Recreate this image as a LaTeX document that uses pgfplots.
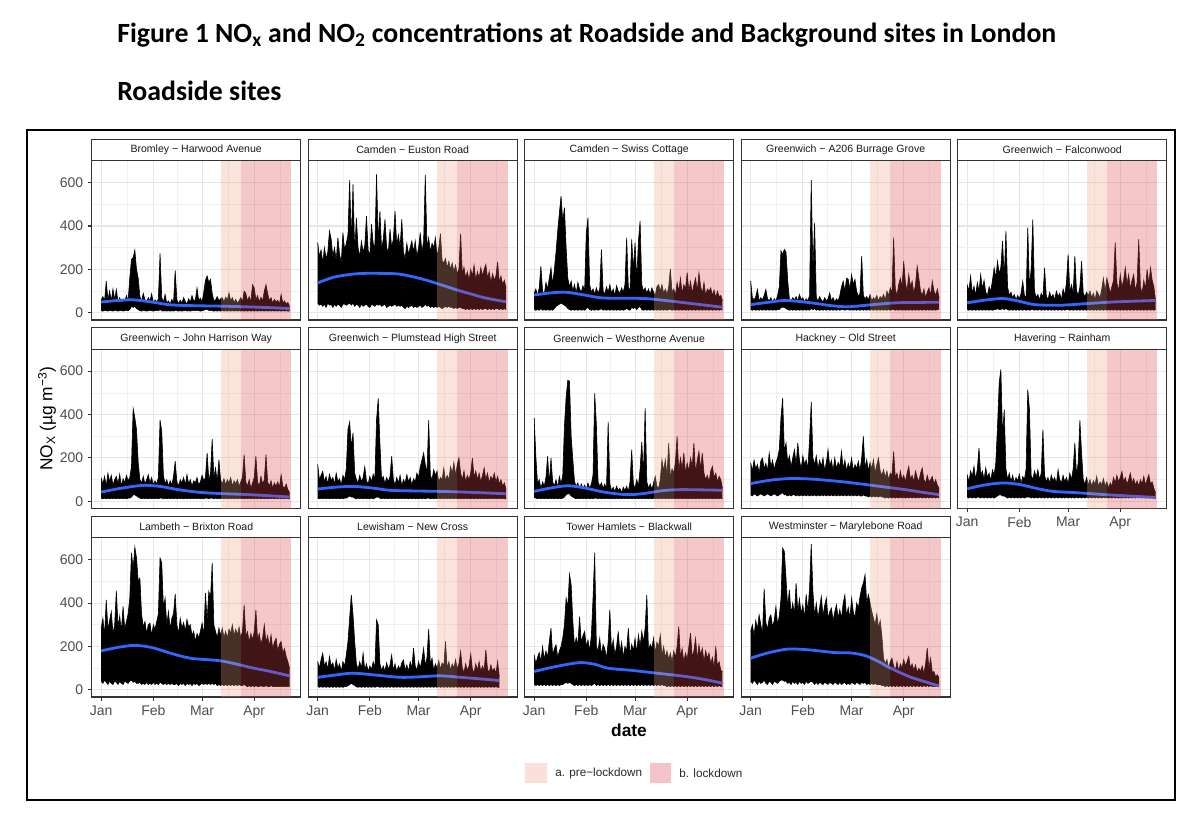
\documentclass[border=0pt]{standalone}
\usepackage{fontspec}
\setmainfont{Liberation Sans}
\newfontfamily\calib{Carlito}
\usepackage{pgfplots}
\pgfplotsset{compat=1.18}
\usepackage{pgfplotstable}
\usepgfplotslibrary{fillbetween}

\definecolor{preC}{RGB}{235,162,135}
\definecolor{lockC}{RGB}{218,68,72}
\definecolor{preL}{RGB}{249,224,216}
\definecolor{lockL}{RGB}{244,196,198}
\definecolor{smoothC}{HTML}{3366FF}
\definecolor{frameC}{HTML}{333333}
\definecolor{tickC}{HTML}{4D4D4D}
\definecolor{gridC}{HTML}{E6E6E6}
\definecolor{gridM}{HTML}{F0F0F0}

\pgfplotsset{
 panel/.style={
  anchor=north west, scale only axis, width=156.75pt, height=119.5pt,
  xmin=-5.65, xmax=118.65, ymin=-33, ymax=701,
  xtick={0,31,60,91}, xticklabels={Jan,Feb,Mar,Apr},
  minor xtick={15.5,45.5,75.5,106.5},
  ytick={0,200,400,600}, minor ytick={100,300,500},
  grid=both,
  major grid style={draw=gridC, line width=0.8pt},
  minor grid style={draw=gridM, line width=0.45pt},
  axis line style={draw=frameC, line width=0.9pt},
  tick align=outside, major tick length=2.8pt, minor tick length=0pt,
  xtick pos=bottom, ytick pos=left,
  tick style={draw=frameC, line width=0.8pt},
  ticklabel style={font=\fontsize{10.5}{12}\selectfont, text=tickC},
  /pgf/number format/assume math mode=true,
 },
 noxl/.style={xticklabels={}, xtick style={draw=none}},
 noyl/.style={yticklabels={}, ytick style={draw=none}},
}

\newcommand{\panel}[7]{%
 \begin{axis}[panel, at={(#1,#2)}, name=#7, #3]
  \addplot[name path=hi, draw=black, line width=0.45pt] table[x expr=\coordindex, y=p] {#4};
  \addplot[name path=lo, draw=black, line width=0.45pt] table[x expr=\coordindex, y=t] {#4};
  \addplot[fill=black, draw=none] fill between[of=hi and lo];
  \addplot[draw=smoothC, line width=2.1pt, smooth, tension=0.5] coordinates {#5};
  \addplot[draw=none, fill=preC, fill opacity=0.3] coordinates {(71,-33) (83,-33) (83,701) (71,701)};
  \addplot[draw=none, fill=lockC, fill opacity=0.3] coordinates {(83,-33) (113,-33) (113,701) (83,701)};
 \end{axis}
 \draw[draw=frameC, line width=0.9pt, fill=white] (#7.north west) rectangle ([yshift=16pt]#7.north east);
 \node[font=\fontsize{7.9}{9}\selectfont, text=black!90, inner sep=0pt] at ([yshift=8pt]#7.north) {#6};
}

% Bromley - Harwood Avenue
\pgfplotstableread{
p t
60 10
75 8
55 12
146 10
60 8
100 12
55 10
110 8
60 12
108 10
50 8
70 10
45 12
62 8
50 10
80 12
55 10
160 15
246 30
254 25
289 30
200 20
160 15
75 10
55 8
90 12
60 10
50 8
70 10
55 12
88 10
45 8
60 10
50 12
65 10
274 15
70 10
50 8
85 10
45 8
55 10
40 8
62 10
45 8
195 12
60 10
42 8
58 10
45 8
70 10
52 12
40 8
65 10
48 8
80 10
55 12
60 10
115 12
55 10
68 8
50 10
95 12
150 15
170 15
140 12
154 10
90 10
55 8
60 10
75 8
55 10
65 8
70 10
50 8
72 10
60 8
92 10
55 8
70 10
48 8
62 10
45 8
55 10
70 8
50 10
100 8
90 10
55 8
75 10
50 8
130 10
115 8
60 10
80 8
50 10
72 8
55 10
100 8
130 10
90 8
55 10
70 8
45 10
62 8
50 10
58 8
40 10
85 8
45 10
55 8
40 10
48 8
30 8
}\dA

% Camden - Euston Road
\pgfplotstableread{
p t
323 45
260 35
290 40
230 30
300 40
250 25
280 45
377 35
340 40
260 25
300 40
240 30
346 40
270 35
230 25
369 40
290 40
320 35
360 40
611 45
330 35
592 45
280 30
438 40
300 35
260 25
330 40
280 30
310 35
446 40
290 30
260 25
408 40
320 35
300 30
638 40
330 35
469 40
290 30
340 35
430 40
300 25
280 30
385 35
300 30
340 35
469 40
310 30
360 35
300 30
431 35
280 25
250 20
320 30
270 25
300 30
331 35
280 25
331 30
260 25
300 30
369 35
280 25
330 30
635 40
300 30
346 35
280 25
320 30
300 25
346 30
260 25
300 30
365 25
240 20
230 25
250 30
208 25
238 30
200 25
230 25
190 20
220 25
180 20
200 25
365 25
180 20
210 20
160 15
190 20
150 15
200 20
170 15
220 20
150 15
190 20
160 15
208 20
170 15
200 20
223 20
160 15
190 20
140 15
180 20
150 15
170 20
235 20
140 15
170 20
130 15
150 20
115 15
}\dB

% Camden - Swiss Cottage
\pgfplotstableread{
p t
90 15
110 12
80 15
115 12
215 20
100 12
85 15
140 12
110 15
160 12
208 15
130 12
200 20
280 30
377 35
462 40
538 45
420 40
485 35
300 30
160 20
120 15
146 12
100 15
130 12
90 15
140 12
110 15
95 12
125 15
100 12
369 20
438 25
130 15
95 12
110 15
85 12
115 15
90 12
110 15
292 20
100 12
85 15
120 12
95 15
130 12
90 15
110 12
80 15
125 12
100 15
90 12
115 15
95 12
130 15
346 20
120 15
100 12
338 25
200 20
323 25
150 15
330 25
423 30
130 15
100 12
115 15
90 12
110 15
85 12
115 15
95 12
80 15
120 12
130 15
100 12
130 15
90 12
110 15
85 12
120 15
203 15
95 12
110 15
80 12
140 15
100 12
160 15
90 12
130 15
110 12
185 15
100 12
145 15
90 12
130 15
160 12
100 15
185 12
120 15
90 12
140 15
80 12
110 15
100 12
115 15
80 12
105 15
70 12
100 15
75 12
80 15
55 12
}\dC

% Greenwich - A206 Burrage Grove
\pgfplotstableread{
p t
146 15
70 12
60 15
75 12
108 15
55 12
70 15
60 12
80 15
108 12
65 15
55 12
70 15
50 12
65 15
55 12
80 15
120 15
285 25
270 25
292 25
280 20
150 15
65 12
55 15
70 12
60 15
75 12
55 15
85 12
60 15
70 12
50 15
65 12
55 15
80 12
611 20
200 15
415 20
70 12
55 15
75 12
60 15
50 12
70 15
55 12
65 15
92 12
55 15
70 12
50 15
65 12
55 15
80 12
120 15
146 15
100 12
160 15
154 15
110 12
177 15
130 12
154 15
100 12
75 15
90 12
262 15
80 12
65 15
75 12
60 15
85 12
55 15
70 12
60 15
80 12
55 15
75 12
65 15
85 12
60 15
100 12
80 15
115 12
90 15
346 15
110 12
80 15
130 12
160 15
120 12
238 15
140 12
100 15
177 12
120 15
146 12
90 15
130 12
215 15
160 12
100 15
80 12
110 15
70 12
95 15
115 12
80 15
146 12
100 15
80 12
110 15
70 15
}\dD

% Greenwich - Falconwood
\pgfplotstableread{
p t
130 15
100 12
170 15
90 12
123 15
80 12
140 15
100 12
177 15
110 12
150 15
95 12
80 15
120 12
100 15
150 12
208 15
160 15
238 20
180 15
210 15
331 20
160 15
377 20
120 15
80 12
95 15
70 12
85 15
60 12
80 15
65 12
90 15
146 12
80 15
70 12
392 15
120 12
200 15
430 15
100 12
70 15
85 12
60 15
90 12
70 15
208 12
80 15
60 12
95 15
70 12
85 15
60 12
100 15
75 12
90 15
60 12
110 15
80 12
140 15
269 15
100 12
130 15
90 12
262 15
100 12
80 15
120 12
238 15
90 12
75 15
95 12
80 15
100 12
70 15
90 12
60 15
100 12
85 15
70 12
110 15
160 12
100 15
160 12
130 15
90 12
120 15
150 12
323 15
140 12
100 15
177 12
120 15
150 12
208 15
130 12
177 15
110 12
150 15
177 12
100 15
140 12
338 15
120 12
90 15
150 12
110 15
200 12
130 15
208 12
150 15
120 12
55 15
}\dE

% Greenwich - John Harrison Way
\pgfplotstableread{
p t
108 15
80 12
115 15
70 12
130 15
90 12
120 15
75 12
100 15
115 12
80 15
125 12
70 15
105 12
85 15
120 12
95 15
110 15
160 20
428 30
385 30
331 25
180 20
100 15
85 12
115 15
80 12
100 15
123 12
85 15
110 12
75 15
95 12
80 15
110 12
374 15
323 15
120 12
80 15
100 12
70 15
95 12
75 15
115 12
185 15
90 12
70 15
100 12
85 15
110 12
75 15
123 12
80 15
100 12
70 15
95 12
85 15
110 12
75 15
90 12
120 15
95 12
110 15
223 15
100 12
130 15
288 15
110 12
154 15
90 12
192 15
100 12
80 15
105 12
75 15
100 12
85 15
110 12
70 15
95 12
80 15
100 12
70 15
90 12
110 15
215 12
90 15
70 12
100 15
60 12
85 15
110 12
208 15
90 12
70 15
115 12
80 15
100 12
215 15
90 12
70 15
95 12
60 15
85 12
70 15
90 12
65 15
123 12
70 15
60 12
80 15
55 12
40 12
}\dF

% Greenwich - Plumstead High Street
\pgfplotstableread{
p t
170 15
100 12
120 15
138 12
90 15
115 12
80 15
125 12
95 15
110 12
80 15
130 12
90 15
105 12
75 15
120 12
100 15
150 15
331 20
366 25
250 20
315 20
130 15
100 12
85 15
120 12
90 15
110 12
160 15
95 12
80 15
115 12
90 15
125 12
100 15
377 20
474 20
269 15
100 12
115 15
80 12
110 15
90 12
115 15
208 12
100 15
75 12
110 15
85 12
120 15
70 12
100 15
85 12
123 15
90 12
110 15
75 12
105 15
90 12
130 15
110 12
160 15
190 12
223 15
170 12
130 15
374 15
120 12
100 15
146 12
120 15
140 12
90 15
110 12
100 15
154 12
95 15
120 12
100 15
160 12
130 15
180 12
120 15
170 12
200 15
130 12
100 15
140 12
90 15
120 12
100 15
130 12
200 15
110 12
140 15
100 12
130 15
90 12
120 15
154 12
100 15
130 12
85 15
115 12
100 15
130 12
90 15
115 12
80 15
100 12
70 15
85 12
55 12
}\dG

% Greenwich - Westhorne Avenue
\pgfplotstableread{
p t
385 20
208 15
80 12
100 15
60 12
90 15
70 12
110 15
208 12
80 15
200 12
90 15
70 12
100 15
65 12
115 15
80 12
120 15
346 20
480 30
558 35
554 35
300 25
192 20
90 15
70 12
85 15
55 12
80 15
60 12
75 15
55 12
85 15
60 12
80 15
120 12
497 15
354 15
90 12
70 15
85 12
60 15
80 12
55 15
366 12
80 15
50 12
65 15
45 12
70 15
50 12
60 15
40 12
65 15
50 12
70 15
45 12
90 15
238 12
80 15
60 12
100 15
70 12
150 15
274 12
120 15
431 12
90 15
60 12
80 15
55 12
85 15
115 12
70 15
60 12
100 15
192 12
140 15
192 12
120 15
269 12
110 15
150 12
130 15
180 12
300 15
140 12
200 15
150 12
223 15
130 12
177 15
140 12
200 15
160 12
269 15
130 12
190 15
230 12
150 15
223 12
130 15
100 12
120 15
90 12
140 15
161 12
110 15
130 12
90 15
115 12
100 15
60 12
}\dH

% Hackney - Old Street
\pgfplotstableread{
p t
177 30
140 25
190 35
150 30
170 25
130 30
185 35
200 30
150 25
175 30
140 35
223 30
160 25
190 30
145 35
180 30
200 25
240 30
385 35
477 40
230 30
269 30
180 25
210 30
160 25
200 30
238 30
170 25
269 30
190 25
150 30
210 25
170 30
192 25
150 30
285 25
457 30
200 25
170 30
210 25
150 30
190 25
160 30
200 25
140 30
180 25
238 30
160 25
190 30
140 25
200 30
150 25
180 30
160 25
231 30
150 25
190 30
140 25
175 30
150 25
200 30
140 25
170 30
150 25
185 30
140 25
200 25
300 30
150 25
192 25
140 20
180 25
150 20
192 25
130 20
170 25
200 20
140 25
120 20
146 20
110 15
140 20
100 15
130 20
120 15
230 20
110 15
130 20
90 15
140 20
100 15
120 20
90 15
130 20
161 15
100 20
120 15
90 20
140 15
110 20
90 15
130 20
154 15
100 20
85 15
120 20
90 15
100 20
115 15
80 20
100 15
75 20
60 15
}\dI

% Havering - Rainham
\pgfplotstableread{
p t
123 20
90 15
140 20
115 15
161 20
100 15
150 20
246 20
120 15
140 20
100 15
155 20
110 15
130 20
95 15
145 20
120 15
180 20
346 25
546 30
608 30
300 25
423 25
150 20
100 15
130 20
90 15
120 20
85 15
110 20
95 15
125 20
80 15
115 20
100 15
150 20
515 20
423 20
120 15
100 20
140 15
110 20
146 15
100 20
130 15
331 20
120 15
90 20
110 15
85 20
120 15
95 20
110 15
80 20
146 15
100 20
85 15
120 20
90 15
110 20
80 15
130 20
100 15
150 20
269 15
120 20
180 15
374 20
223 15
100 20
80 15
110 20
75 15
100 20
70 15
95 20
80 15
115 20
70 15
90 20
75 15
105 20
70 15
90 20
60 15
85 20
70 15
110 20
85 15
120 20
90 15
110 20
138 15
90 20
110 15
80 20
100 15
130 20
85 15
105 20
75 15
95 20
70 15
100 20
80 15
115 20
75 15
100 20
123 15
80 20
90 15
60 15
40 12
}\dJ

% Lambeth - Brixton Road
\pgfplotstableread{
p t
285 40
330 30
250 45
415 35
280 25
320 40
361 30
260 25
300 40
457 35
290 25
340 40
270 30
385 25
280 40
315 35
350 30
423 40
631 45
560 35
658 40
608 30
500 30
515 35
350 25
290 30
315 25
260 35
300 25
308 30
250 25
300 35
280 25
315 30
350 25
608 35
585 30
380 25
423 30
300 25
361 30
280 25
330 30
350 25
442 25
300 30
260 20
330 30
285 25
310 30
270 20
325 30
290 25
300 30
250 20
270 30
223 25
260 30
240 20
270 25
308 30
250 25
446 30
320 25
454 30
423 25
585 30
300 25
270 30
240 20
285 25
250 20
285 25
240 20
270 25
238 20
280 25
260 20
300 25
250 20
280 25
254 20
290 25
240 20
270 20
392 25
250 20
269 15
220 20
260 15
230 20
269 15
369 20
230 15
260 15
210 20
240 15
300 15
220 20
250 15
200 15
254 20
190 15
220 15
238 15
180 15
210 15
223 15
170 15
190 15
154 15
130 15
100 15
}\dK

% Lewisham - New Cross
\pgfplotstableread{
p t
131 15
100 12
140 15
169 12
110 15
130 12
95 15
154 12
110 15
125 12
90 15
140 12
100 15
120 12
85 15
130 12
110 15
160 15
223 20
331 25
438 30
346 25
223 20
120 15
95 12
130 15
100 12
169 15
90 12
120 15
85 12
110 15
95 12
130 15
100 12
323 15
300 15
120 12
90 15
110 12
85 15
125 12
95 15
115 12
161 15
90 12
120 15
85 12
110 15
95 12
125 15
138 12
90 15
115 12
85 15
130 12
100 15
192 12
110 15
90 12
130 15
100 12
140 15
192 12
110 15
150 12
280 15
120 12
146 15
90 12
120 15
100 12
135 15
95 12
125 15
110 12
223 15
100 12
130 15
90 12
120 15
100 12
140 15
95 12
120 15
177 12
100 15
80 12
120 15
90 12
110 15
165 12
95 15
80 12
120 15
90 12
130 15
85 12
110 15
90 12
185 15
95 12
80 15
115 12
85 15
100 12
75 15
131 12
60 12
}\dL

% Tower Hamlets - Blackwall
\pgfplotstableread{
p t
161 25
120 20
150 25
172 20
130 25
200 20
140 25
180 20
150 25
223 20
285 25
160 20
190 25
208 20
150 25
180 20
200 25
240 25
300 30
423 35
380 30
534 35
485 30
315 25
200 20
240 25
208 20
338 25
220 20
250 25
269 20
200 25
230 20
180 25
250 20
423 25
631 30
200 20
180 25
238 20
160 25
210 20
190 25
146 20
220 25
369 20
180 25
230 20
160 25
200 20
269 25
170 20
220 25
150 20
200 25
180 20
285 25
160 20
210 25
180 20
238 25
170 20
254 25
200 20
270 25
220 20
285 25
438 20
180 25
210 20
192 25
240 20
170 25
220 20
200 25
254 20
160 25
200 20
150 20
180 15
140 20
170 15
130 20
180 15
150 20
200 15
292 20
150 15
190 20
130 15
170 20
140 15
200 20
262 15
150 20
180 15
238 20
140 15
208 20
160 15
192 20
130 15
180 20
146 15
170 20
120 15
150 20
100 15
200 20
110 15
130 20
90 15
85 15
}\dM

% Westminster - Marylebone Road
\pgfplotstableread{
p t
269 40
300 30
250 45
320 35
280 25
346 40
300 30
260 35
466 45
310 30
280 25
330 40
346 35
290 25
320 40
385 35
300 30
340 40
420 45
654 45
638 40
515 40
380 30
462 35
350 25
400 40
346 30
492 35
360 25
420 40
350 30
392 35
330 25
440 40
360 30
469 35
672 40
454 35
340 25
400 35
330 25
380 35
431 30
340 25
390 35
423 30
330 25
360 35
377 30
320 25
360 35
392 30
330 25
370 35
330 25
400 30
438 35
340 25
380 30
330 25
423 35
361 30
330 25
400 35
377 30
430 25
469 35
492 30
531 35
400 25
440 30
400 25
361 30
330 25
300 30
350 25
285 25
320 25
250 20
146 20
120 15
140 20
100 15
130 20
146 15
110 20
90 15
130 20
85 15
120 20
100 15
140 20
110 15
130 20
154 15
100 20
120 15
90 20
115 15
80 20
100 15
85 20
110 15
75 20
120 15
192 20
100 15
146 20
80 15
85 15
60 15
70 15
55 15
}\dN

\begin{document}
\begin{tikzpicture}
\path (0,0) rectangle (900pt,-610.5pt);

\node[anchor=base west, inner sep=0pt, font=\calib\bfseries\fontsize{20.85}{24}\selectfont] at (87.75pt,-31.5pt) {Figure 1 NO\textsubscript{x} and NO\textsubscript{2} concentrations at Roadside and Background sites in London};
\node[anchor=base west, inner sep=0pt, font=\calib\bfseries\fontsize{20.85}{24}\selectfont] at (87.75pt,-75pt) {Roadside sites};

\draw[line width=1.5pt] (20.25pt,-97.5pt) rectangle (881.25pt,-600pt);

% Row 1
\panel{68.78pt}{-120.5pt}{noxl}{\dA}{(0,50)(10,57)(19,60)(30,50)(41,37)(55,33)(70,31)(85,28)(100,24)(112,20)}{Bromley − Harwood Avenue}{pA}
\panel{231.15pt}{-120.5pt}{noxl,noyl}{\dB}{(0,138)(10,165)(23,180)(35,182)(49,178)(63,154)(73,130)(83,105)(92,85)(100,68)(112,51)}{Camden − Euston Road}{pB}
\panel{393.5pt}{-120.5pt}{noxl,noyl}{\dC}{(0,82)(10,92)(19,95)(30,82)(40,69)(55,67)(66,66)(78,57)(90,46)(100,37)(112,26)}{Camden − Swiss Cottage}{pC}
\panel{555.9pt}{-120.5pt}{noxl,noyl}{\dD}{(0,38)(10,48)(21,57)(36,46)(48,33)(58,28)(70,36)(86,46)(100,48)(112,49)}{Greenwich − A206 Burrage Grove}{pD}
\panel{718.3pt}{-120.5pt}{noxl,noyl}{\dE}{(0,46)(10,58)(21,66)(30,55)(40,38)(55,35)(70,42)(84,49)(100,54)(112,57)}{Greenwich − Falconwood}{pE}

% Row 2
\panel{68.78pt}{-261.9pt}{noxl}{\dF}{(0,43)(10,58)(20,70)(27,74)(36,68)(45,55)(58,42)(71,36)(85,32)(100,26)(112,20)}{Greenwich − John Harrison Way}{pF}
\panel{231.15pt}{-261.9pt}{noxl,noyl}{\dG}{(0,57)(10,65)(21,69)(32,62)(43,51)(58,48)(73,46)(90,42)(100,39)(112,35)}{Greenwich − Plumstead High Street}{pG}
\panel{393.5pt}{-261.9pt}{noxl,noyl}{\dH}{(0,46)(10,62)(20,72)(30,62)(42,42)(55,31)(65,36)(76,49)(86,54)(100,53)(112,51)}{Greenwich − Westhorne Avenue}{pH}
\panel{555.9pt}{-261.9pt}{noxl,noyl}{\dI}{(0,82)(12,98)(23,105)(33,104)(41,100)(55,90)(69,77)(80,66)(92,54)(102,42)(112,31)}{Hackney − Old Street}{pI}
\panel{718.3pt}{-261.9pt}{noyl}{\dJ}{(0,58)(10,75)(21,85)(31,78)(41,60)(51,46)(65,40)(82,31)(98,24)(112,18)}{Havering − Rainham}{pJ}

% Row 3
\panel{68.78pt}{-403.3pt}{}{\dK}{(0,180)(10,196)(19,205)(27,200)(33,189)(43,165)(53,146)(62,140)(71,134)(80,120)(89,103)(100,86)(112,65)}{Lambeth − Brixton Road}{pK}
\panel{231.15pt}{-403.3pt}{noyl}{\dL}{(0,58)(10,68)(21,77)(35,68)(49,58)(60,60)(73,65)(85,58)(98,50)(108,43)}{Lewisham − New Cross}{pL}
\panel{393.5pt}{-403.3pt}{noyl}{\dM}{(0,85)(10,103)(20,118)(28,126)(36,118)(44,100)(58,90)(73,77)(88,64)(100,50)(112,31)}{Tower Hamlets − Blackwall}{pM}
\panel{555.9pt}{-403.3pt}{noyl}{\dN}{(0,146)(10,170)(22,188)(34,185)(50,172)(60,170)(68,158)(75,135)(82,105)(94,62)(104,37)(112,18)}{Westminster − Marylebone Road}{pN}

% axis titles
\node[rotate=90, font=\fontsize{13}{15}\selectfont] at (35.25pt,-313.9pt) {NO\textsubscript{X} (µg m\textsuperscript{−3})};
\node[font=\bfseries\fontsize{13}{15}\selectfont] at (471.75pt,-547.5pt) {date};

% legend
\fill[preL] (393.75pt,-572.25pt) rectangle (410.25pt,-587.25pt);
\node[anchor=west, inner sep=0pt, font=\fontsize{8.8}{10}\selectfont, text=black!85] at (416.25pt,-579.75pt) {a. pre−lockdown};
\fill[lockL] (487.5pt,-572.25pt) rectangle (503.25pt,-587.25pt);
\node[anchor=west, inner sep=0pt, font=\fontsize{8.8}{10}\selectfont, text=black!85] at (509.25pt,-579.75pt) {b. lockdown};
\end{tikzpicture}
\end{document}
